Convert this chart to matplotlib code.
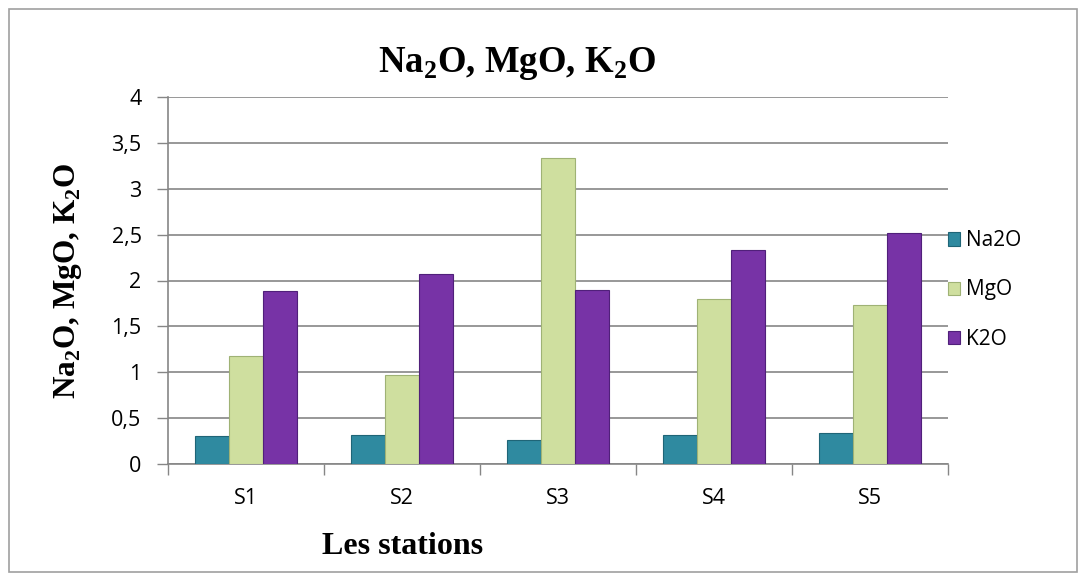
import matplotlib.pyplot as plt
import numpy as np
from matplotlib.patches import Rectangle

plt.rcParams['mathtext.fontset'] = 'custom'
plt.rcParams['mathtext.rm'] = 'Liberation Serif:bold'
plt.rcParams['mathtext.bf'] = 'Liberation Serif:bold'

STATIONS = ['S1', 'S2', 'S3', 'S4', 'S5']
na2o = [0.31, 0.32, 0.26, 0.32, 0.34]
mgo = [1.18, 0.97, 3.33, 1.80, 1.73]
k2o = [1.89, 2.07, 1.90, 2.33, 2.52]
SERIES = ['Na2O', 'MgO', 'K2O']
COLORS = ['#2f8aa0', '#cfdf9f', '#7733a6']
EDGES = ['#1f6577', '#9fb275', '#50207a']
yticks = [0, 0.5, 1, 1.5, 2, 2.5, 3, 3.5, 4]

fig = plt.figure(figsize=(10.86, 5.81), dpi=100, facecolor='w')
ax = fig.add_axes([168 / 1086, 1 - 464 / 581, (948 - 168) / 1086, (464 - 97) / 581])

x = np.arange(len(STATIONS))
w = 0.22
for i, (vals, name) in enumerate(zip([na2o, mgo, k2o], SERIES)):
    ax.bar(x + (i - 1) * w, vals, w, color=COLORS[i], edgecolor=EDGES[i],
           linewidth=0.8, label=name, zorder=3)

ax.set_xlim(-0.5, len(STATIONS) - 0.5)
ax.set_ylim(0, 4)
ax.set_yticks(yticks)
ax.set_yticklabels([('%g' % t).replace('.', ',') for t in yticks],
                   fontfamily='Open Sans', fontsize=15.5)
ax.set_xticks(x)
ax.set_xticklabels(STATIONS, fontfamily='Open Sans', fontsize=15.5)
ax.set_xticks(np.arange(len(STATIONS) + 1) - 0.5, minor=True)
ax.tick_params(axis='x', which='major', length=0, pad=17)
ax.tick_params(axis='x', which='minor', length=8, color='#868686', width=1)
ax.tick_params(axis='y', length=8, color='#868686', width=1, pad=11)
ax.grid(axis='y', color='#868686', linewidth=1.2, zorder=0)
for s in ['top', 'right']:
    ax.spines[s].set_visible(False)
for s in ['left', 'bottom']:
    ax.spines[s].set_color('#868686')
    ax.spines[s].set_linewidth(1.2)

fig.text(517 / 1086, 1 - 72 / 581, r'Na$_\mathbf{2}$O, MgO, K$_\mathbf{2}$O',
         ha='center', va='baseline', fontfamily='Liberation Serif',
         fontweight='bold', fontsize=26.5)
fig.text(68 / 1086, 1 - 281 / 581, r'Na$_\mathbf{2}$O, MgO, K$_\mathbf{2}$O',
         ha='center', va='center', rotation=90, fontfamily='Liberation Serif',
         fontweight='bold', fontsize=22.5)
fig.text(403 / 1086, 1 - 546 / 581, 'Les stations', ha='center', va='center',
         fontfamily='Liberation Serif', fontweight='bold', fontsize=23)

fig.legend(loc='center left', bbox_to_anchor=(929 / 1086, 1 - 290 / 581),
           frameon=False, prop={'family': 'Open Sans', 'size': 15},
           handlelength=0.6, handleheight=0.6, handletextpad=0.3,
           labelspacing=1.35)

fig.add_artist(Rectangle((9 / 1086, 9 / 581), 1068 / 1086, 563 / 581,
                         transform=fig.transFigure, fill=False,
                         edgecolor='#a0a0a0', linewidth=1.2))

plt.savefig('out.png', dpi=100)
